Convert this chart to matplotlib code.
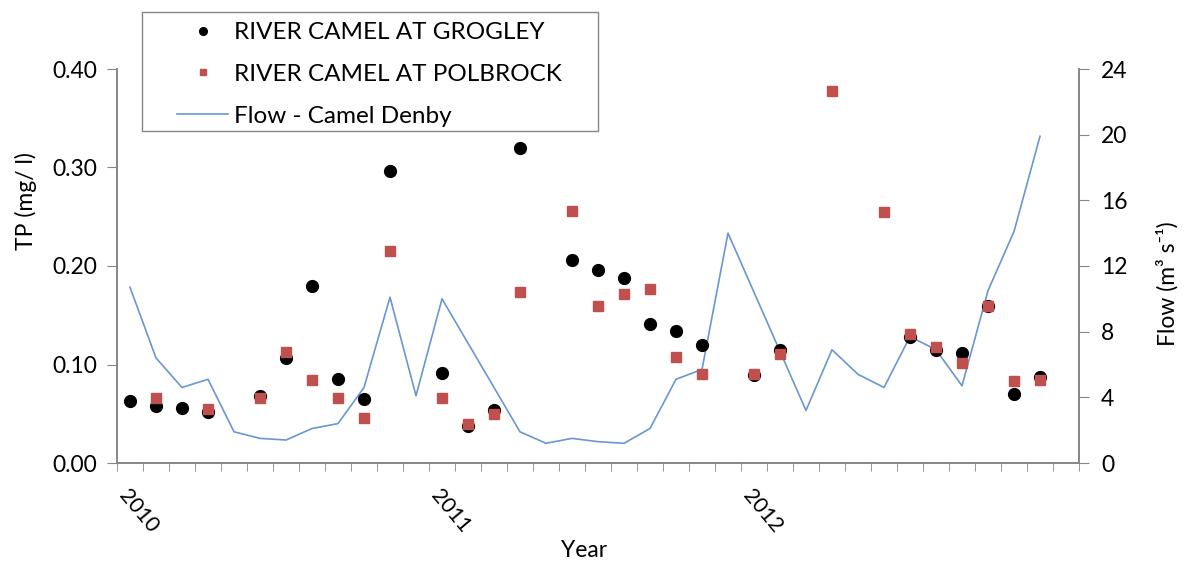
import numpy as np
import matplotlib
matplotlib.use("Agg")
import matplotlib.pyplot as plt
from matplotlib.patches import Rectangle

plt.rcParams["font.family"] = ["Lato", "DejaVu Sans"]

nan = np.nan

# one category per month, Jan 2010 .. Jan 2013
months = list(range(37))
year_ticks = [0, 12, 24]
year_labels = ["2010", "2011", "2012"]

grogley = [0.063, 0.058, 0.0555, 0.0515, nan, 0.068, 0.107, 0.180, 0.085, 0.065,
           0.296, nan, 0.091, 0.038, 0.054, 0.320, nan, 0.206, 0.196, 0.188,
           0.141, 0.134, 0.120, nan, 0.089, 0.115, nan, nan, nan, nan,
           0.128, 0.115, 0.112, 0.159, 0.070, 0.087, nan]

polbrock = [nan, 0.066, nan, 0.0545, nan, 0.066, 0.113, 0.084, 0.066, 0.046,
            0.2155, nan, 0.066, 0.040, 0.050, 0.174, nan, 0.256, 0.159, 0.172,
            0.177, 0.108, 0.090, nan, 0.090, 0.111, nan, 0.378, nan, 0.2545,
            0.131, 0.118, 0.102, 0.159, 0.083, 0.084, nan]

flow = [10.7, 6.4, 4.6, 5.1, 1.9, 1.5, 1.4, 2.1, 2.4, 4.6,
        10.1, 4.1, 10.0, 7.3, 4.6, 1.9, 1.2, 1.5, 1.3, 1.2,
        2.1, 5.1, 5.7, 14.0, 10.4, 6.8, 3.2, 6.9, 5.4, 4.6,
        7.7, 6.9, 4.7, 10.5, 14.1, 19.9, nan]

axis_grey = "#868686"
W, H = 1187, 563

fig = plt.figure(figsize=(W / 100, H / 100), dpi=100)
ax = fig.add_axes([117 / W, 1 - 463 / H, 962 / W, 394 / H])
ax2 = ax.twinx()

# flow line behind the markers
ax.set_zorder(ax2.get_zorder() + 1)
ax.patch.set_visible(False)

l3, = ax2.plot(months, flow, color="#6A96D2", linewidth=1.2, label="Flow - Camel Denby")
l1, = ax.plot(months, grogley, linestyle="none", marker="o", markersize=8.5,
              color="black", label="RIVER CAMEL AT GROGLEY")
l2, = ax.plot(months, polbrock, linestyle="none", marker="s", markersize=7.5,
              color="#C0504D", label="RIVER CAMEL AT POLBROCK")

ax.set_xlim(-0.5, 36.5)
ax.set_ylim(0, 0.40)
ax2.set_ylim(0, 24)

ax.set_yticks(np.arange(0, 0.41, 0.10))
ax.set_yticklabels(["%.2f" % v for v in np.arange(0, 0.41, 0.10)])
ax2.set_yticks(np.arange(0, 25, 4))

ax.set_xticks(year_ticks)
ax.set_xticklabels(year_labels, rotation=-50, ha="left", va="top",
                   rotation_mode="anchor", fontsize=15.5)
ax.set_xticks(np.arange(-0.5, 37, 1), minor=True)
ax.tick_params(axis="x", which="major", length=0, pad=16)
ax.tick_params(axis="x", which="minor", length=6, color=axis_grey, direction="out")

ax.tick_params(axis="y", length=7, color=axis_grey, labelsize=16.5, pad=7)
ax2.tick_params(axis="y", length=7, color=axis_grey, labelsize=16.5, pad=9)

for a in (ax, ax2):
    a.spines["top"].set_visible(False)
    for s in ("left", "right", "bottom"):
        a.spines[s].set_color(axis_grey)
        a.spines[s].set_linewidth(1.2)

ax.set_ylabel("TP (mg/ l)", fontsize=16.5)
ax.yaxis.set_label_coords(-0.083, 0.665)
ax2.set_ylabel("Flow (m³ s⁻¹)", fontsize=16.5, rotation=90)
ax2.yaxis.set_label_coords(1.08, 0.455)
ax.set_xlabel("Year", fontsize=16.5)
ax.xaxis.set_label_coords(0.486, -0.195)

# legend frame drawn separately so the padding can match the original box
fig.patches.append(Rectangle((142 / W, 1 - 131 / H), 456 / W, 119 / H,
                             transform=fig.transFigure, fill=False,
                             edgecolor=axis_grey, linewidth=1.0))
leg = fig.legend(handles=[l1, l2, l3], loc="upper left",
                 bbox_to_anchor=(177 / W, 1 - 22 / H), fontsize=17.5,
                 frameon=False, borderpad=0, labelspacing=0.86,
                 handlelength=2.1, handletextpad=0.25, borderaxespad=0,
                 markerscale=0.65)

fig.savefig("out.png", dpi=100)
